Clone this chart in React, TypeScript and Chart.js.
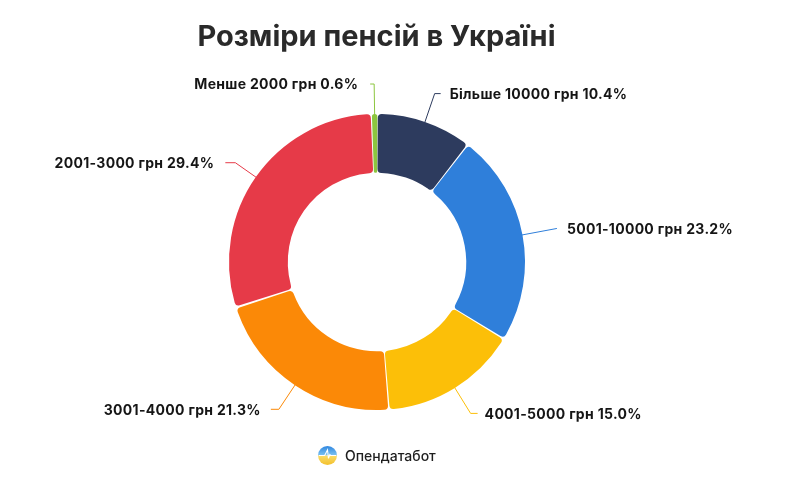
import React, { useEffect, useRef } from "react";
import { Chart, registerables } from "chart.js";

Chart.register(...registerables);

const CATEGORIES = [
  "Менше 2000 грн",
  "Більше 10000 грн",
  "5001-10000 грн",
  "4001-5000 грн",
  "3001-4000 грн",
  "2001-3000 грн",
];
const SHARES = [0.6, 10.4, 23.2, 15.0, 21.3, 29.4];
const COLORS = ["#8cc63f", "#2d3b5e", "#2f7fda", "#fcbf08", "#fb8907", "#e63a48"];

// leader-line styling per slice (radial length, horizontal tail, gap to text)
const LEADER_EXT = [31, 31, 36, 31, 30, 26];
const LEADER_TAIL = [4, 6, 0, 7, 8, 10];
const LABEL_GAP = [12, 9, 10, 7, 10, 11];

const leaderPlugin = {
  id: "leaderLabels",
  afterDatasetsDraw(chart: any) {
    const ctx = chart.ctx as CanvasRenderingContext2D;
    const meta = chart.getDatasetMeta(0);
    ctx.save();
    meta.data.forEach((arc: any, i: number) => {
      const p = arc.getProps(["x", "y", "startAngle", "endAngle", "outerRadius"], true);
      const mid = (p.startAngle + p.endAngle) / 2;
      const c = Math.cos(mid);
      const s = Math.sin(mid);
      const r0 = p.outerRadius - 2;
      const r1 = p.outerRadius + LEADER_EXT[i];
      const x0 = p.x + c * r0;
      const y0 = p.y + s * r0;
      const x1 = p.x + c * r1;
      const y1 = p.y + s * r1;
      const dir = c < 0 ? -1 : 1;
      const x2 = x1 + dir * LEADER_TAIL[i];
      ctx.strokeStyle = COLORS[i];
      ctx.lineWidth = 1;
      ctx.beginPath();
      ctx.moveTo(x0, y0);
      ctx.lineTo(x1, y1);
      ctx.lineTo(x2, y1);
      ctx.stroke();
      ctx.fillStyle = "#151515";
      ctx.font = "bold 14px Inter, 'Noto Sans', sans-serif";
      (ctx as any).letterSpacing = "0.3px";
      ctx.textBaseline = "middle";
      ctx.textAlign = dir < 0 ? "right" : "left";
      const label = `${CATEGORIES[i]} ${SHARES[i].toFixed(1)}%`;
      ctx.fillText(label, x2 + dir * LABEL_GAP[i], y1 + 1);
    });
    ctx.restore();
  },
};

export default function App() {
  const ref = useRef<HTMLCanvasElement | null>(null);

  useEffect(() => {
    if (!ref.current) return;
    const chart = new Chart(ref.current, {
      type: "doughnut",
      data: {
        labels: CATEGORIES,
        datasets: [
          {
            data: SHARES,
            backgroundColor: COLORS,
            borderWidth: 0,
            spacing: 2,
            borderRadius: 4,
            hoverOffset: 0,
          },
        ],
      },
      options: {
        responsive: false,
        animation: false,
        rotation: -2,
        cutout: "60%",
        layout: { padding: { top: 114, bottom: 72, left: 229, right: 275 } },
        plugins: {
          legend: { display: false },
          tooltip: { enabled: false },
          title: { display: false },
        },
      },
      plugins: [leaderPlugin],
    });
    return () => chart.destroy();
  }, []);

  return (
    <div
      style={{
        position: "absolute",
        left: 0,
        top: 0,
        width: 800,
        height: 482,
        background: "#ffffff",
        overflow: "hidden",
      }}
    >
      <canvas ref={ref} width={800} height={482} style={{ position: "absolute", left: 0, top: 0 }} />
      <div
        style={{
          position: "absolute",
          left: 0,
          top: 18,
          width: 753,
          textAlign: "center",
          fontFamily: "Inter, 'Noto Sans', sans-serif",
          fontWeight: 700,
          fontSize: 29,
          lineHeight: "35px",
          color: "#2a2a2a",
          whiteSpace: "nowrap",
        }}
      >
        Розміри пенсій в Україні
      </div>
      <div
        style={{
          position: "absolute",
          left: 318,
          top: 445,
          height: 20,
          display: "flex",
          alignItems: "center",
          gap: 8,
          fontFamily: "Inter, 'Noto Sans', sans-serif",
          fontWeight: 500,
          fontSize: 14,
          color: "#1e1e1e",
        }}
      >
        <svg width="19" height="19" viewBox="0 0 20 20">
          <defs>
            <linearGradient id="lgTop" x1="0" y1="0" x2="0" y2="1">
              <stop offset="0" stopColor="#2f86e0" />
              <stop offset="1" stopColor="#7cc3f2" />
            </linearGradient>
            <linearGradient id="lgBot" x1="0" y1="0" x2="0" y2="1">
              <stop offset="0" stopColor="#f9dc6a" />
              <stop offset="1" stopColor="#f3c02c" />
            </linearGradient>
          </defs>
          <path d="M0 10 A10 10 0 0 1 20 10 Z" fill="url(#lgTop)" />
          <path d="M0 10 A10 10 0 0 0 20 10 Z" fill="url(#lgBot)" />
          <polyline
            points="1,10 7,10 8.5,7 10,4 11,13 12.5,9 13.5,10 19,10"
            fill="none"
            stroke="#ffffff"
            strokeWidth="1.1"
          />
        </svg>
        <span>Опендатабот</span>
      </div>
    </div>
  );
}
